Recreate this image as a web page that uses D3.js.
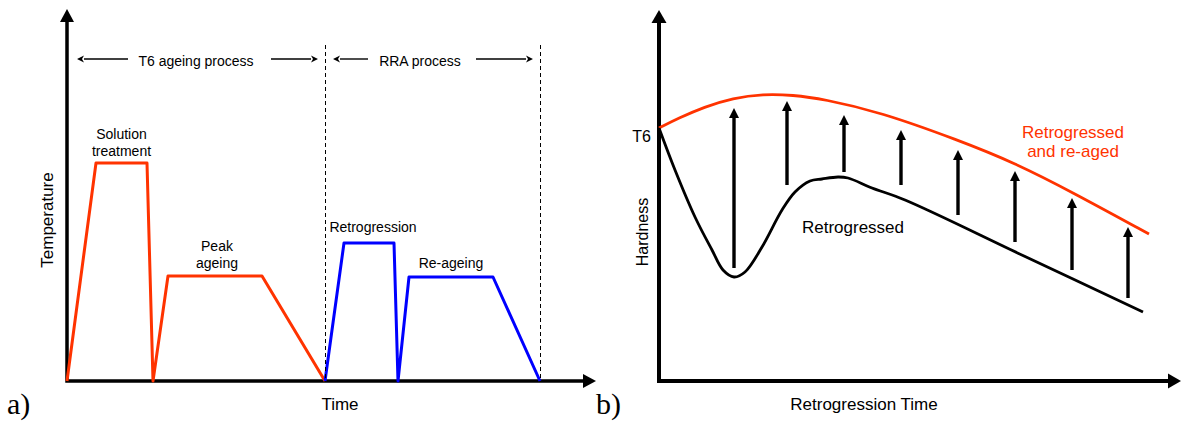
<!DOCTYPE html>
<html>
<head>
<meta charset="utf-8">
<script src="https://cdn.jsdelivr.net/npm/d3@7"></script>
<style>
body { margin: 0; background: #fff; }
text { font-family: "Liberation Sans", Arial, sans-serif; }
</style>
</head>
<body>
<script>
// panel a - heat treatment schedule (time units / temperature units)
var t6Time = [0, 5.8, 16, 17.2, 20.2, 39, 51.6];
var t6Temp = [0, 43.6, 43.6, 0, 21, 21, 0];
var rraTime = [51.6, 55.4, 65.4, 66.2, 68.4, 85.2, 94.6];
var rraTemp = [0, 27.6, 27.6, 0, 20.8, 20.8, 0];
var processBounds = [0, 51.6, 94.6];
var processNames = ['T6 ageing process', 'RRA process'];
var stageNames = [['Solution', 'treatment'], ['Peak', 'ageing'], ['Retrogression'], ['Re-ageing']];

// panel b - hardness against retrogression time
var reagedTime = [0, 4, 9, 14.8, 20.8, 26.8, 32.8, 44.2, 59.8, 71.2, 82.6, 98];
var reagedHard = [50.6, 52.6, 54.8, 56.6, 57.4, 57.2, 56.4, 53.8, 48.2, 43.6, 37.8, 29.4];
var retroTime = [0, 3.2, 7.2, 10.6, 12.8, 15, 17.2, 20.6, 24.6, 27.2, 30.2, 32.6, 35.8, 37.8, 42.6, 49.2, 73, 96.8];
var retroHard = [50.6, 42.2, 32.8, 26.2, 22.2, 20.8, 21.8, 26.8, 34.2, 37.8, 40, 40.4, 40.8, 40.6, 38.6, 36.2, 25, 13.8];
var arrowTime = [15, 25.6, 37, 48.4, 59.8, 71.2, 82.6, 93.8];
var arrowFrom = [22.6, 39.2, 41.8, 39.2, 33.2, 27.8, 22.2, 16.6];
var arrowTo = [54.6, 56, 53.2, 50.2, 46.2, 42, 36.6, 30.8];

var red = '#ff3300';
var blue = '#0000ff';

var svg = d3.select('body').append('svg')
    .attr('width', 1183)
    .attr('height', 421);

var xA = d3.scaleLinear().domain([0, 105.8]).range([67, 596]);
var yA = d3.scaleLinear().domain([0, 74.4]).range([381, 9]);
var xB = d3.scaleLinear().domain([0, 104.4]).range([659, 1181]);
var yB = d3.scaleLinear().domain([0, 74.2]).range([381, 10]);

// axes with arrow heads
function drawAxes(xs, ys, head, half, width) {
    var x0 = xs.range()[0], x1 = xs.range()[1];
    var y0 = ys.range()[0], y1 = ys.range()[1];
    svg.append('path')
        .attr('d', 'M' + x0 + ',' + (y1 + head - 1) + 'V' + y0 + 'H' + (x1 - head + 1))
        .attr('fill', 'none')
        .attr('stroke', '#000')
        .attr('stroke-width', width)
        .attr('stroke-linejoin', 'miter');
    svg.append('path')
        .attr('d', 'M' + x0 + ',' + y1 + 'L' + (x0 + half) + ',' + (y1 + head) + 'L' + (x0 - half) + ',' + (y1 + head) + 'Z');
    svg.append('path')
        .attr('d', 'M' + x1 + ',' + y0 + 'L' + (x1 - head) + ',' + (y0 - half) + 'L' + (x1 - head) + ',' + (y0 + half) + 'Z');
}
drawAxes(xA, yA, 13, 7, 3.5);
drawAxes(xB, yB, 13, 7.5, 4);

// ---- panel a ----
var lineA = d3.line()
    .x(function(d) { return xA(d[0]); })
    .y(function(d) { return yA(d[1]); });

svg.append('path')
    .attr('d', lineA(d3.zip(t6Time, t6Temp)))
    .attr('fill', 'none')
    .attr('stroke', red)
    .attr('stroke-width', 3)
    .attr('stroke-linejoin', 'round');

svg.append('path')
    .attr('d', lineA(d3.zip(rraTime, rraTemp)))
    .attr('fill', 'none')
    .attr('stroke', blue)
    .attr('stroke-width', 3)
    .attr('stroke-linejoin', 'round');

// dashed boundaries
svg.selectAll('line.bound')
    .data(processBounds.slice(1))
    .enter()
    .append('line')
    .attr('class', 'bound')
    .attr('x1', function(d) { return Math.round(xA(d)) + 0.5; })
    .attr('x2', function(d) { return Math.round(xA(d)) + 0.5; })
    .attr('y1', yA(67.2))
    .attr('y2', yA(0))
    .attr('stroke', '#000')
    .attr('stroke-width', 1)
    .attr('stroke-dasharray', '4,3');

// process span arrows
function hArrow(xa, xb, y, dir) {
    // dir -1 head at xa, +1 head at xb
    var tip = dir < 0 ? xa : xb;
    var base = tip - dir * 7;
    svg.append('line')
        .attr('x1', dir < 0 ? base : xa)
        .attr('x2', dir < 0 ? xb : base)
        .attr('y1', y).attr('y2', y)
        .attr('stroke', '#000')
        .attr('stroke-width', 1.4);
    svg.append('path')
        .attr('d', 'M' + tip + ',' + y + 'L' + base + ',' + (y - 3.5) + 'L' + (base + dir * 2) + ',' + y + 'L' + base + ',' + (y + 3.5) + 'Z');
}
var spanY = yA(64.4);
hArrow(xA(2), xA(12.2), spanY, -1);
hArrow(xA(40.8), xA(50.2), spanY, 1);
hArrow(xA(53.2), xA(60.2), spanY, -1);
hArrow(xA(81.8), xA(93.2), spanY, 1);

svg.append('text').attr('x', xA(25.8)).attr('y', yA(63.1))
    .attr('text-anchor', 'middle').attr('font-size', 14).text(processNames[0]);
svg.append('text').attr('x', xA(70.6)).attr('y', yA(63.1))
    .attr('text-anchor', 'middle').attr('font-size', 14).text(processNames[1]);

// stage labels (first line baseline at the given point)
var stagePos = [[10.9, 48.4], [30, 26], [61.2, 29.8], [76.8, 22.6]];
stageNames.forEach(function(lines, i) {
    var t = svg.append('text')
        .attr('x', xA(stagePos[i][0]))
        .attr('y', yA(stagePos[i][1]))
        .attr('text-anchor', 'middle')
        .attr('font-size', 14);
    lines.forEach(function(s, j) {
        t.append('tspan')
            .attr('x', xA(stagePos[i][0]))
            .attr('dy', j === 0 ? 0 : 17)
            .text(s);
    });
});

svg.append('text')
    .attr('transform', 'translate(53,' + yA(32.2) + ') rotate(-90)')
    .attr('text-anchor', 'middle').attr('font-size', 17).text('Temperature');
svg.append('text').attr('x', xA(54.6)).attr('y', 410)
    .attr('text-anchor', 'middle').attr('font-size', 17).text('Time');
svg.append('text').attr('x', 7).attr('y', 414)
    .style('font-family', '"Liberation Serif", serif').attr('font-size', 30).text('a)');

// ---- panel b ----
var lineRed = d3.line()
    .x(function(d) { return xB(d[0]); })
    .y(function(d) { return yB(d[1]); })
    .curve(d3.curveBasis);
var lineBlack = d3.line()
    .x(function(d) { return xB(d[0]); })
    .y(function(d) { return yB(d[1]); })
    .curve(d3.curveCatmullRom.alpha(0.5));

svg.append('path')
    .attr('d', lineRed(d3.zip(reagedTime, reagedHard)))
    .attr('fill', 'none')
    .attr('stroke', red)
    .attr('stroke-width', 2.8);

svg.append('path')
    .attr('d', lineBlack(d3.zip(retroTime, retroHard)))
    .attr('fill', 'none')
    .attr('stroke', '#000')
    .attr('stroke-width', 2.8);

var arrows = svg.append('g').selectAll('g')
    .data(d3.zip(arrowTime, arrowFrom, arrowTo))
    .enter()
    .append('g');
arrows.append('line')
    .attr('x1', function(d) { return xB(d[0]); })
    .attr('x2', function(d) { return xB(d[0]); })
    .attr('y1', function(d) { return yB(d[1]); })
    .attr('y2', function(d) { return yB(d[2]) + 9; })
    .attr('stroke', '#000')
    .attr('stroke-width', 3.4);
arrows.append('path')
    .attr('d', function(d) {
        var x = xB(d[0]), y = yB(d[2]);
        return 'M' + x + ',' + y + 'L' + (x + 5) + ',' + (y + 10) + 'L' + (x - 5) + ',' + (y + 10) + 'Z';
    });

svg.append('text').attr('x', xB(-1.6)).attr('y', yB(47.8))
    .attr('text-anchor', 'end').attr('font-size', 16).text('T6');
svg.append('text')
    .attr('transform', 'translate(648,' + yB(29.8) + ') rotate(-90)')
    .attr('text-anchor', 'middle').attr('font-size', 16).text('Hardness');
svg.append('text').attr('x', xB(41)).attr('y', 410)
    .attr('text-anchor', 'middle').attr('font-size', 17).text('Retrogression Time');
svg.append('text').attr('x', xB(38.8)).attr('y', yB(29.6))
    .attr('text-anchor', 'middle').attr('font-size', 17).text('Retrogressed');
var lab = svg.append('text').attr('x', xB(82.8)).attr('y', yB(48.6))
    .attr('text-anchor', 'middle').attr('font-size', 17).attr('fill', red);
lab.append('tspan').attr('x', xB(82.8)).text('Retrogressed');
lab.append('tspan').attr('x', xB(82.8)).attr('dy', 19).text('and re-aged');
svg.append('text').attr('x', 596).attr('y', 414)
    .style('font-family', '"Liberation Serif", serif').attr('font-size', 30).text('b)');
</script>
</body>
</html>
